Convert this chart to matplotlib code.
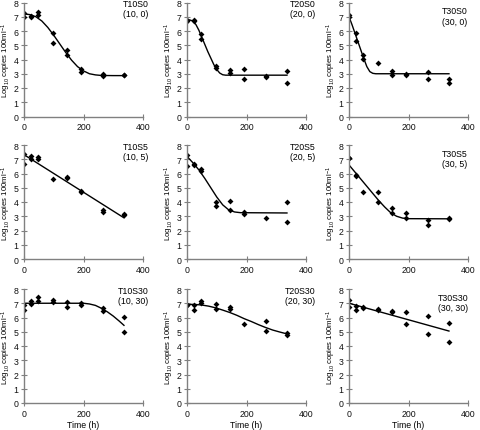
import matplotlib
matplotlib.use("Agg")
import matplotlib.pyplot as plt
import numpy as np

plt.rcParams["font.family"] = ["Liberation Sans", "DejaVu Sans"]
plt.rcParams["mathtext.default"] = "regular"

# sampling times (h)
hours = [0, 24, 48, 96, 144, 192, 264, 336]

# replicate measurements (log10 copies 100 ml-1), nan = no second point
t10s0_a = [7.25, 7.05, 7.35, 5.85, 4.65, 3.35, 2.95, 2.9]
t10s0_b = [7.0, 7.0, 7.1, 5.15, 4.35, 3.15, 2.85, 2.9]
t20s0_a = [6.75, 6.75, 5.78, 3.53, 3.23, 3.3, 2.85, 3.16]
t20s0_b = [6.7, 6.7, 5.47, 3.37, 3.02, 2.62, 2.8, 2.34]
t30s0_a = [7.12, 5.83, 4.34, 3.75, 3.2, 2.95, 3.09, 2.65]
t30s0_b = [6.98, 5.33, 4.06, np.nan, 2.92, 2.88, 2.62, 2.38]

t10s5_a = [7.35, 7.2, 7.15, 5.63, 5.77, 4.77, 3.47, 3.17]
t10s5_b = [6.69, 7.04, 7.05, np.nan, 5.65, 4.69, 3.33, 3.1]
t20s5_a = [7.3, 6.64, 6.29, 3.99, 4.1, 3.31, 2.89, 3.97]
t20s5_b = [6.53, 6.57, 6.17, 3.69, 3.45, 3.15, np.nan, 2.63]
t30s5_a = [7.1, 5.9, 4.71, 4.67, 3.55, 3.2, 2.71, 2.86]
t30s5_b = [7.07, 5.85, np.nan, 3.97, 3.22, 2.87, 2.36, 2.8]

t10s30_a = [6.86, 7.19, 7.45, 7.2, 7.09, 7.05, 6.65, 6.06]
t10s30_b = [6.53, 6.93, 7.14, 7.1, 6.77, 6.9, 6.44, 4.96]
t20s30_a = [6.9, 6.88, 7.14, 6.98, 6.77, 5.57, 5.76, 4.93]
t20s30_b = [6.85, 6.5, 7.05, 6.62, 6.62, np.nan, 5.07, 4.79]
t30s30_a = [7.24, 6.84, 6.77, 6.62, 6.46, 6.37, 6.13, 5.64]
t30s30_b = [6.77, 6.55, 6.7, 6.55, 6.37, 5.52, 4.86, 4.3]

# fitted curves
t10s0_fit_t = [0, 20, 40, 60, 80, 100, 120, 140, 160, 180, 200, 220, 240, 260, 300, 336]
t10s0_fit_y = [7.2, 7.15, 7.0, 6.7, 6.25, 5.7, 5.1, 4.5, 3.95, 3.5, 3.2, 3.0, 2.92, 2.88, 2.87, 2.87]
t20s0_fit_t = [0, 10, 20, 30, 40, 50, 60, 70, 80, 90, 100, 110, 120, 130, 336]
t20s0_fit_y = [6.78, 6.77, 6.7, 6.45, 6.05, 5.55, 5.05, 4.55, 4.1, 3.65, 3.3, 3.05, 2.93, 2.9, 2.9]
t30s0_fit_t = [0, 10, 20, 30, 40, 50, 60, 70, 80, 90, 336]
t30s0_fit_y = [7.0, 6.45, 5.85, 5.25, 4.65, 4.05, 3.5, 3.15, 3.03, 3.0, 3.0]

t10s5_fit_t = [0, 336]
t10s5_fit_y = [7.32, 2.89]
t20s5_fit_t = [0, 20, 40, 60, 80, 100, 120, 140, 160, 180, 336]
t20s5_fit_y = [7.2, 6.75, 6.25, 5.65, 5.0, 4.35, 3.8, 3.45, 3.3, 3.25, 3.23]
t30s5_fit_t = [0, 20, 40, 60, 80, 100, 120, 140, 160, 180, 200, 336]
t30s5_fit_y = [6.6, 6.1, 5.6, 5.1, 4.6, 4.1, 3.65, 3.25, 3.0, 2.87, 2.83, 2.82]

t10s30_fit_t = [0, 200, 220, 240, 260, 280, 300, 320, 336]
t10s30_fit_y = [7.0, 7.0, 6.95, 6.85, 6.65, 6.4, 6.1, 5.75, 5.45]
t20s30_fit_t = [0, 24, 48, 72, 96, 120, 144, 168, 192, 216, 240, 264, 288, 312, 336]
t20s30_fit_y = [6.92, 6.92, 6.88, 6.8, 6.68, 6.52, 6.35, 6.15, 5.92, 5.72, 5.5, 5.3, 5.12, 4.98, 4.85]
t30s30_fit_t = [0, 336]
t30s30_fit_y = [7.0, 5.05]

panels = [
    ("T10S0\n(10, 0)", t10s0_a, t10s0_b, t10s0_fit_t, t10s0_fit_y),
    ("T20S0\n(20, 0)", t20s0_a, t20s0_b, t20s0_fit_t, t20s0_fit_y),
    ("T30S0\n(30, 0)", t30s0_a, t30s0_b, t30s0_fit_t, t30s0_fit_y),
    ("T10S5\n(10, 5)", t10s5_a, t10s5_b, t10s5_fit_t, t10s5_fit_y),
    ("T20S5\n(20, 5)", t20s5_a, t20s5_b, t20s5_fit_t, t20s5_fit_y),
    ("T30S5\n(30, 5)", t30s5_a, t30s5_b, t30s5_fit_t, t30s5_fit_y),
    ("T10S30\n(10, 30)", t10s30_a, t10s30_b, t10s30_fit_t, t10s30_fit_y),
    ("T20S30\n(20, 30)", t20s30_a, t20s30_b, t20s30_fit_t, t20s30_fit_y),
    ("T30S30\n(30, 30)", t30s30_a, t30s30_b, t30s30_fit_t, t30s30_fit_y),
]

W, H = 480, 431
fig = plt.figure(figsize=(W / 100, H / 100), dpi=100)

# axes boxes in pixels
col_left = [24, 187, 349]
row_top = [3.5, 146, 290]
ax_w, ax_h = 119, 114
label_pos = [(1.05, 1.03), (1.08, 1.03), (1.0, 0.965)]

grey = "#808080"
for i, (name, ya, yb, ft, fy) in enumerate(panels):
    r, c = divmod(i, 3)
    left = col_left[c] / W
    bottom = 1 - (row_top[r] + ax_h) / H
    ax = fig.add_axes([left, bottom, ax_w / W, ax_h / H])

    ax.plot(ft, fy, color="black", lw=1.0)
    ax.plot(hours, ya, "D", color="black", ms=3, mew=0)
    ax.plot(hours, yb, "D", color="black", ms=3, mew=0)

    ax.set_xlim(0, 400)
    ax.set_ylim(0, 8)
    ax.set_xticks([0, 200, 400])
    ax.set_yticks(range(9))
    for s in ["top", "right"]:
        ax.spines[s].set_visible(False)
    for s in ["left", "bottom"]:
        ax.spines[s].set_color(grey)
        ax.spines[s].set_linewidth(1.0)
    ax.tick_params(direction="inout", length=5, width=0.8, color=grey,
                   labelsize=6.3, pad=1.5, labelcolor="#111111")
    ax.set_ylabel("Log$_{10}$ copies 100ml$^{-1}$", fontsize=5.6, labelpad=0.5)
    if r == 2:
        ax.set_xlabel("Time (h)", fontsize=6.3, labelpad=2)

    lx, ly = label_pos[c]
    ax.text(lx, ly, name, transform=ax.transAxes, ha="right", va="top",
            multialignment="center", fontsize=6.3, linespacing=1.15)

fig.savefig("out.png", dpi=100)
